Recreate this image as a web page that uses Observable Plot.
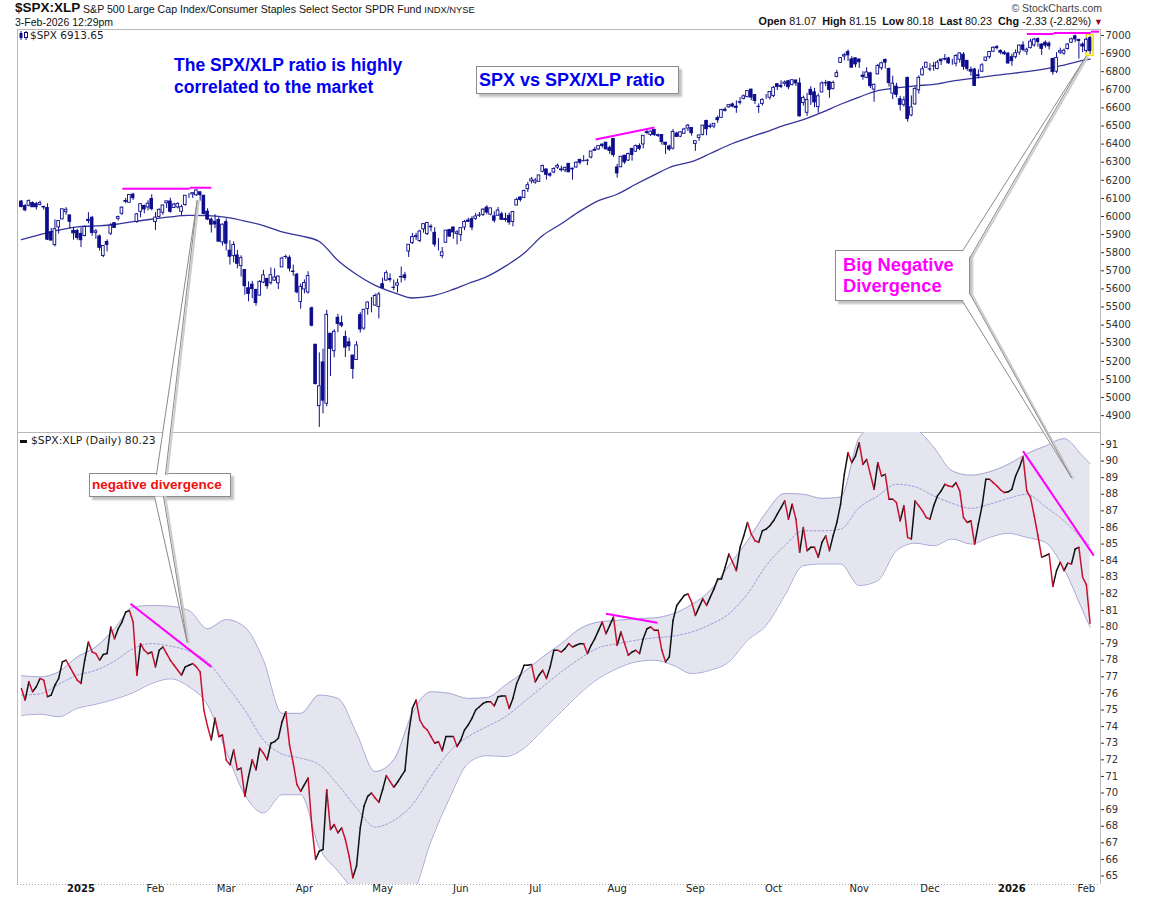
<!DOCTYPE html>
<html>
<head>
<meta charset="utf-8">
<script src="https://cdn.jsdelivr.net/npm/d3@7"></script>
<script src="https://cdn.jsdelivr.net/npm/@observablehq/plot@0.6"></script>
<style>
  html, body { margin:0; padding:0; background:#fff; }
  #chart { position:relative; width:1150px; height:900px; overflow:hidden; background:#fff; font-family:"Liberation Sans", Arial, sans-serif; }
  .abs { position:absolute; white-space:nowrap; line-height:1; }
  .box { position:absolute; box-sizing:border-box; background:#fff; border:1px solid #8c8c8c; box-shadow:3px 3px 2px #c2c2c2; white-space:nowrap; font-weight:bold; z-index:5; }
  .plotwrap { position:absolute; }
  .plotwrap svg { overflow:visible; }
</style>
</head>
<body>
<div id="chart">
  <div class="abs" style="left:15px;top:1px;font-size:13.5px;font-weight:bold;color:#111">$SPX:XLP</div>
  <div class="abs" style="left:83px;top:3.5px;font-size:10.6px;color:#111">S&amp;P 500 Large Cap Index/Consumer Staples Select Sector SPDR Fund <span style="font-size:9.4px">INDX/NYSE</span></div>
  <div class="abs" style="left:15px;top:17px;font-size:10.5px;color:#111">3-Feb-2026 12:29pm</div>
  <div class="abs" style="right:48px;top:3px;font-size:10.5px;color:#444">&copy; StockCharts.com</div>
  <div class="abs" style="right:47px;top:16px;font-size:10.8px;color:#111"><b>Open</b> 81.07&nbsp; <b>High</b> 81.15&nbsp; <b>Low</b> 80.18&nbsp; <b>Last</b> 80.23&nbsp; <b>Chg</b> -2.33 (-2.82%) <span style="color:#a0002a;font-size:9px">&#9660;</span></div>

  <div class="abs" style="left:19px;top:31px;z-index:4">
    <svg width="9" height="9" style="display:block"><line x1="2" y1="0" x2="2" y2="9" stroke="#0c0c8c"/><rect x="0.5" y="2" width="3" height="5" fill="#0c0c8c"/><line x1="7" y1="0" x2="7" y2="9" stroke="#0c0c8c"/><rect x="5.5" y="1.5" width="3" height="5" fill="#fff" stroke="#0c0c8c"/></svg>
  </div>
  <div class="abs" style="left:30px;top:30px;font-family:'DejaVu Sans';font-size:10.5px;color:#222;z-index:4">$SPX 6913.65</div>

  <div class="abs" style="left:20px;top:440px;width:7px;height:3px;background:#111;z-index:4"></div>
  <div class="abs" style="left:31px;top:435.5px;font-family:'DejaVu Sans';font-size:10.8px;color:#222;z-index:4">$SPX:XLP (Daily) 80.23</div>

  <div class="abs" style="left:174px;top:55px;font-size:17.5px;font-weight:bold;color:#0000f0;line-height:21.5px;z-index:5">The SPX/XLP ratio is highly<br>correlated to the market</div>
  <div class="box" style="left:476px;top:66px;width:203px;height:28px;padding-left:2px;font-size:18px;line-height:26px;color:#0000f0">SPX vs SPX/XLP ratio</div>
  <div class="box" style="left:835px;top:250px;width:135px;height:51px;padding:3px 0 0 7px;font-size:18.3px;line-height:21px;color:#ff00ff">Big Negative<br>Divergence</div>
  <div class="box" style="left:89px;top:473px;width:142px;height:24px;padding-left:2px;font-size:13.5px;line-height:22px;color:#f01010">negative divergence</div>
</div>
<script>
// ---------------- DATA ----------------
const firstDay = "2024-12-09";
const lastDay = "2026-02-03";
const marketHolidays = ["2024-12-25","2025-01-01","2025-01-09","2025-01-20","2025-02-17","2025-04-18",
  "2025-05-26","2025-06-19","2025-07-04","2025-09-01","2025-11-27","2025-12-25","2026-01-01","2026-01-19"];

// $SPX daily candles (one value per trading day)
const spxOpen = [
  6083,6058,6060,6075,6068,6064,6053,6047,5913,5842,5940,5984,6024,6006,5921,5920,
  5904,5892,5982,5993,5910,5890,5782,5859,5905,5963,5987,6015,6081,6076,6121,5970,6026,6058,6050,6097,
  5969,5998,6021,6073,6083,6047,6050,6026,6063,6115,6122,6117,6134,6115,6027,5983,5971,5981,5857,
  5969,5811,5781,5785,5726,5705,5604,5624,5594,5563,5635,5655,5632,5646,5631,5719,5776,5772,5696,5679,5528,
  5597,5581,5493,5292,4953,5194,4966,5353,5256,5441,5411,5335,5305,5232,5207,5455,5381,5489,5529,5508,5500,
  5626,5646,5655,5605,5618,5666,5675,5807,5853,5886,5865,5929,5903,5944,5910,5842,5781,5855,5925,5939,5903,
  5897,5939,5978,5985,5987,6004,6009,6049,6010,6001,6004,6012,5987,6004,5970,6061,6105,6103,6151,6194,
  6187,6192,6247,6260,6233,6243,6270,6256,6255,6291,6260,6271,6313,6305,6307,6326,6368,6370,6397,6408,6379,6428,
  6271,6272,6336,6309,6374,6358,6389,6398,6461,6451,6478,6445,6450,6408,6387,6375,6458,6441,6457,6486,6489,
  6401,6434,6451,6528,6498,6497,6543,6545,6590,6603,6619,6607,6628,6650,6659,6701,6671,6606,6622,6661,6656,
  6665,6731,6722,6733,6747,6727,6751,6735,6627,6573,6700,6686,6604,6685,6737,6742,6705,6771,6849,6884,6908,6868,6874,
  6867,6778,6766,6791,6701,6785,6819,6865,6815,6679,6718,6648,6617,6765,6558,6619,6697,6780,6822,
  6813,6830,6815,6867,6867,6873,6840,6844,6866,6894,6860,6810,6812,6780,6800,6860,6880,6910,6935,6915,6905,6900,
  6880,6880,6905,6945,6910,6930,6945,6980,6950,6960,6955,6870,6800,6905,6900,6925,6960,6995,6975,6950,
  6915,6985];
const spxHigh = [
  6088,6066,6092,6080,6078,6085,6057,6070,5935,5982,5978,6040,6049,6007,5940,5929,
  5936,5949,6021,6001,5928,5898,5839,5871,5961,5964,6002,6052,6100,6119,6128,6017,6070,6063,6087,6120,
  6022,6042,6062,6084,6101,6073,6076,6063,6116,6127,6129,6147,6134,6115,6043,5992,6010,5994,5959,
  5987,5866,5860,5813,5783,5706,5639,5642,5598,5646,5703,5659,5716,5711,5672,5775,5787,5783,5732,5685,5627,
  5650,5695,5500,5293,5247,5267,5482,5353,5375,5460,5450,5367,5328,5233,5309,5469,5484,5528,5553,5572,5581,
  5659,5700,5683,5649,5654,5721,5692,5845,5906,5907,5924,5959,5968,5954,5938,5878,5829,5922,5930,5943,5922,
  5937,5978,5990,5999,6017,6022,6043,6060,6046,6026,6050,6024,6018,6019,6028,6101,6108,6146,6188,6215,
  6210,6227,6284,6262,6242,6269,6290,6278,6272,6292,6268,6302,6316,6336,6316,6360,6382,6390,6401,6409,6389,6428,
  6288,6330,6338,6350,6376,6395,6401,6446,6481,6473,6481,6456,6453,6408,6394,6481,6466,6469,6487,6508,6489,
  6416,6449,6502,6532,6511,6513,6555,6592,6601,6616,6627,6639,6656,6672,6694,6703,6672,6622,6650,6674,6689,
  6719,6733,6750,6749,6752,6754,6755,6764,6665,6680,6717,6708,6677,6744,6752,6744,6748,6807,6877,6900,6920,6883,6875,
  6871,6800,6822,6797,6731,6841,6853,6870,6820,6775,6736,6664,6661,6771,6666,6715,6777,6828,6853,
  6844,6851,6862,6867,6895,6879,6868,6894,6904,6905,6862,6826,6818,6810,6845,6880,6912,6937,6945,6920,6915,6905,
  6897,6920,6947,6965,6930,6978,6985,6986,6955,6970,6965,6875,6905,6930,6925,6955,6985,7002,6980,6960,
  6985,6995];
const spxLow = [
  6048,6026,6053,6050,6036,6059,6035,5867,5866,5832,5903,5983,6007,5932,5869,5869,
  5829,5888,5960,5891,5874,5809,5773,5804,5895,5938,5975,6006,6071,6075,6089,5962,5993,6015,6031,6031,
  5923,5991,6007,6044,6019,6045,6042,6004,6057,6100,6100,6111,6085,6009,5977,5909,5933,5858,5837,
  5810,5732,5744,5711,5666,5565,5529,5546,5505,5562,5629,5598,5622,5641,5597,5719,5764,5694,5670,5573,5488,
  5573,5571,5390,5070,4835,4910,4949,5116,5220,5358,5386,5221,5255,5101,5207,5357,5371,5455,5468,5506,5434,
  5599,5643,5637,5590,5578,5633,5644,5774,5845,5868,5856,5908,5895,5915,5830,5810,5767,5855,5886,5874,5843,
  5862,5922,5967,5921,5978,5994,6000,6010,6004,5964,6004,5978,5970,5952,5943,6059,6080,6099,6133,6180,
  6178,6188,6241,6201,6217,6236,6260,6245,6243,6243,6201,6267,6285,6303,6281,6318,6360,6366,6378,6366,6343,6327,
  6212,6270,6288,6304,6306,6356,6364,6374,6451,6441,6442,6436,6394,6343,6360,6367,6437,6436,6454,6469,6444,
  6360,6416,6445,6446,6485,6485,6515,6541,6577,6599,6600,6570,6616,6644,6656,6640,6619,6570,6610,6647,6643,
  6657,6696,6706,6717,6700,6721,6718,6550,6610,6553,6614,6601,6570,6685,6718,6653,6699,6766,6846,6860,6856,6820,6822,
  6818,6753,6761,6707,6631,6783,6808,6815,6715,6646,6656,6583,6604,6521,6551,6615,6676,6777,6820,
  6800,6803,6810,6834,6859,6840,6835,6827,6847,6807,6802,6775,6720,6760,6795,6855,6870,6908,6920,6893,6890,6843,
  6830,6870,6890,6910,6890,6925,6935,6935,6890,6930,6920,6780,6790,6895,6890,6920,6955,6960,6870,6905,
  6905,6895];
const spxClose = [
  6052,6034,6085,6051,6051,6074,6050,5872,5867,5930,5975,6040,6037,5971,5907,5882,
  5869,5942,5975,5909,5918,5827,5837,5843,5950,5937,5997,6049,6086,6119,6101,6012,6068,6039,6071,6041,
  5994,6037,6061,6084,6026,6066,6069,6052,6115,6115,6129,6144,6118,6013,5983,5955,5956,5861,5955,
  5850,5778,5843,5739,5770,5615,5572,5599,5522,5639,5675,5615,5676,5663,5668,5768,5777,5712,5693,5581,5612,
  5633,5671,5397,5074,5062,4983,5457,5268,5363,5406,5397,5276,5283,5158,5288,5376,5485,5525,5529,5561,5569,
  5604,5687,5650,5607,5631,5664,5660,5844,5886,5892,5917,5958,5964,5940,5845,5842,5802,5922,5889,5912,5912,
  5936,5970,5971,5939,6000,6006,6038,6022,6045,5977,6033,5982,5981,5967,6025,6092,6092,6141,6173,6205,
  6198,6227,6279,6230,6226,6263,6280,6260,6269,6244,6264,6297,6297,6306,6309,6359,6363,6389,6390,6371,6362,6339,
  6238,6330,6299,6345,6340,6389,6374,6446,6466,6469,6450,6449,6411,6396,6370,6467,6440,6465,6481,6502,6460,
  6416,6448,6502,6482,6495,6512,6532,6588,6584,6615,6607,6600,6632,6664,6693,6657,6638,6605,6644,6661,6688,
  6711,6715,6716,6740,6714,6753,6735,6553,6654,6644,6671,6630,6664,6735,6735,6699,6738,6792,6875,6891,6890,6822,6840,
  6852,6771,6796,6720,6728,6832,6846,6850,6737,6734,6672,6617,6642,6538,6603,6705,6766,6813,6849,
  6812,6829,6850,6857,6870,6846,6840,6887,6901,6827,6816,6800,6721,6775,6835,6878,6909,6932,6930,6905,6896,6845,
  6858,6902,6944,6921,6921,6966,6977,6964,6926,6944,6940,6797,6876,6913,6916,6950,6979,6978,6969,6939,
  6976,6913.65];

// $SPX:XLP daily close
const ratioClose = [
  76.3,75.6,76.7,76.1,76.4,76.9,76.8,75.8,75.9,76.5,76.9,77.9,78.0,77.6,77.2,76.8,
  76.6,78.0,79.1,78.5,78.4,78.0,78.35,78.4,80.0,79.3,79.9,80.3,80.9,81.0,80.3,77.1,79.0,78.6,78.4,78.5,
  77.6,78.6,78.8,78.4,78.0,77.7,77.4,77.1,77.6,77.7,77.8,77.6,77.3,75.0,74.0,73.2,74.5,73.4,73.5,
  72.0,71.7,72.6,71.4,71.5,69.8,71.0,72.0,71.4,72.7,72.4,72.0,73.0,73.1,73.3,74.3,74.9,72.9,71.8,70.5,70.1,
  70.5,70.9,68.0,66.0,66.5,66.6,70.2,67.8,68.1,67.6,67.9,67.2,66.2,64.9,65.6,67.9,69.2,69.8,70.0,69.7,69.45,
  70.2,71.05,70.7,70.35,70.65,71.0,71.35,73.6,75.1,75.6,74.4,74.0,73.8,73.4,73.0,73.1,72.55,73.4,73.4,73.4,72.8,
  73.2,73.8,74.1,74.5,75.0,75.2,75.4,75.5,75.5,75.25,75.8,75.85,75.85,75.1,75.7,76.6,77.1,77.7,77.7,77.75,
  76.7,77.1,77.4,76.9,77.6,78.6,78.6,78.5,78.7,79.0,78.8,78.9,79.0,79.0,78.4,78.9,79.3,79.8,80.3,79.6,80.1,80.6,
  78.9,79.7,79.0,78.3,78.5,78.6,78.4,79.3,79.9,80.0,79.8,79.8,78.6,77.9,78.2,80.4,81.3,81.6,81.9,82.0,81.5,
  80.7,81.2,81.7,81.3,81.8,82.3,82.9,82.9,83.6,84.4,83.9,83.4,84.8,85.5,86.3,85.6,85.2,85.1,85.8,85.9,86.1,
  86.4,86.8,87.2,87.6,86.5,87.4,86.5,84.5,86.0,84.6,84.8,84.8,84.2,85.1,85.5,84.6,85.5,86.3,87.4,89.2,90.5,89.9,90.3,
  91.1,89.8,90.1,89.2,88.3,89.9,89.1,89.2,87.7,87.7,87.5,86.4,87.3,85.4,85.3,87.6,87.3,87.0,86.6,
  86.5,87.3,87.9,88.2,88.6,88.5,88.45,88.7,88.2,86.6,86.3,86.4,85.0,86.2,87.3,88.9,88.9,88.7,88.5,88.25,88.1,88.15,
  88.3,89.1,89.6,90.25,88.2,87.8,86.7,85.5,84.2,84.3,84.4,82.45,83.4,83.9,83.4,83.85,83.8,84.7,84.8,83.0,
  82.56,80.23];

// indicator readings, every 5th trading day (trading-day number from the first bar)
const sampleDay = [0,5,10,15,20,25,30,35,40,45,50,55,60,65,70,75,80,85,90,95,100,105,110,115,120,125,130,135,140,
  145,150,155,160,165,170,175,180,185,190,195,200,205,210,215,220,225,230,235,240,245,250,255,260,265,270,275,280,285,287];
const spxMA50 = [5873,5900,5925,5943,5948,5956,5972,5985,5998,6006,6005,5995,5975,5950,5915,5893,5862,5757,5680,5620,
  5580,5550,5560,5590,5630,5668,5726,5797,5895,5960,6030,6088,6123,6178,6230,6278,6303,6348,6395,6433,6468,6505,6535,
  6575,6620,6660,6695,6710,6722,6730,6748,6762,6776,6788,6800,6816,6836,6862,6870];
const bbUpper = [77.07,77.0,77.3,78.2,78.8,79.9,81.2,81.3,81.25,81.0,79.9,80.45,80.0,78.0,74.8,74.8,75.9,75.7,73.6,71.3,
  72.0,74.8,76.1,76.0,75.7,75.75,76.5,77.3,78.2,79.0,79.9,80.3,80.4,80.5,80.55,80.8,81.35,82.2,83.7,85.2,86.9,88.05,88.0,
  87.75,87.83,91.4,92.2,92.4,92.0,90.84,89.4,89.15,89.35,89.8,90.44,90.9,91.35,90.3,89.84];
const bbMiddle = [75.9,75.98,76.55,77.1,77.4,77.95,78.7,79.0,78.85,78.55,77.9,76.5,75.0,73.2,72.35,72.1,71.7,70.5,69.1,67.95,
  68.35,69.3,71.0,72.5,73.4,74.0,74.6,75.5,76.4,77.3,78.1,78.75,79.0,79.2,79.35,79.45,79.7,80.15,80.8,82.0,83.7,84.9,85.8,
  85.8,85.9,87.2,87.9,88.6,88.45,87.9,87.45,87.15,87.4,87.75,88.0,87.25,86.4,85.3,84.9];
const bbLower = [74.68,74.75,74.6,75.1,75.35,75.65,76.05,76.6,76.88,76.4,75.3,72.5,69.9,68.8,69.9,69.9,66.7,65.3,64.0,63.3,
  63.5,64.0,67.1,69.7,71.8,72.25,72.2,72.7,73.8,74.9,76.0,76.9,77.5,77.9,78.0,77.7,77.2,77.4,77.9,79.2,80.1,81.9,83.7,
  83.8,83.8,82.5,82.8,84.6,85.05,84.9,85.3,85.0,85.4,85.65,85.4,85.1,83.5,81.0,80.0];

// axis ticks
const spxTicks = [4900,5000,5100,5200,5300,5400,5500,5600,5700,5800,5900,6000,6100,6200,6300,6400,6500,6600,6700,6800,6900,7000];
const ratioTicks = [65,66,67,68,69,70,71,72,73,74,75,76,77,78,79,80,81,82,83,84,85,86,87,88,89,90,91];
const monthTickDates = ["2025-01-02","2025-02-03","2025-03-03","2025-04-01","2025-05-01","2025-06-02","2025-07-01",
  "2025-08-01","2025-09-02","2025-10-01","2025-11-03","2025-12-01","2026-01-02","2026-02-02"];
const monthTickLabels = ["2025","Feb","Mar","Apr","May","Jun","Jul","Aug","Sep","Oct","Nov","Dec","2026","Feb"];

// hand-drawn annotations (trading-day number, value)
const spxDivergence = [
  {d1:27.1, v1:6153, d2:45.2, v2:6153}, {d1:45.2, v1:6159, d2:51.0, v2:6159},
  {d1:154.2, v1:6425, d2:170.0, v2:6492},
  {d1:270.0, v1:7008, d2:277.2, v2:7008}, {d1:277.2, v1:7014, d2:287.2, v2:7014}, {d1:287.2, v1:7021, d2:289.4, v2:7021}];
const ratioDivergence = [
  {d1:29.3, v1:81.4, d2:51.0, v2:77.6},
  {d1:157.0, v1:80.8, d2:170.8, v2:80.26},
  {d1:269.0, v1:90.6, d2:288.0, v2:84.3}];
// callout pointers: base on the box edge (page px), tip in data units
const callouts = [
  {id:"a", b1x:156, b1y:474, b2x:165, b2y:474, panel:"spx", day:47.2, value:6088},
  {id:"b", b1x:154, b1y:496, b2x:163, b2y:496, panel:"ratio", day:44.5, value:79.1},
  {id:"c", b1x:962, b1y:250.5, b2x:969.5, b2y:257, panel:"spx", day:285.9, value:6884},
  {id:"d", b1x:962, b1y:300.5, b2x:969.5, b2y:293.5, panel:"ratio", day:282.0, value:89.0}];

// ---------------- BUILD ----------------
const hol = new Set(marketHolidays);
const days = [];
for (let t = new Date(firstDay + "T12:00:00Z"); t <= new Date(lastDay + "T12:00:00Z"); t = new Date(t.getTime() + 864e5)) {
  const wd = t.getUTCDay(), s = t.toISOString().slice(0, 10);
  if (wd > 0 && wd < 6 && !hol.has(s)) days.push(s);
}
const n = Math.min(days.length, spxClose.length, ratioClose.length);
const bars = d3.range(n).map(i => ({i, date: days[i], o: spxOpen[i], h: spxHigh[i], l: spxLow[i], c: spxClose[i]}));
const lastBar = bars[n - 1];
const segs = d3.range(1, ratioClose.length).map(i => ({x1: i - 1, y1: ratioClose[i - 1], x2: i, y2: ratioClose[i], up: ratioClose[i] >= ratioClose[i - 1]}));
const maRows = sampleDay.map((d, k) => ({i: d, v: spxMA50[k]}));
const bandRows = sampleDay.map((d, k) => ({i: d, up: bbUpper[k], mid: bbMiddle[k], lo: bbLower[k]}));
const monthTicks = monthTickDates.map((dt, k) => ({i: days.indexOf(dt), label: monthTickLabels[k], bold: /^\d{4}$/.test(monthTickLabels[k])}));

const xDomain = [-1.05, 289.8];
const navy = "#0c0c8c";
const axisStyle = {fontFamily: "DejaVu Sans", fontSize: "10px", color: "#222", background: "transparent", overflow: "visible"};

const topPlot = Plot.plot({
  width: 1134, height: 404, marginLeft: 1, marginRight: 50, marginTop: 1, marginBottom: 0,
  x: {domain: xDomain, axis: null},
  y: {domain: [4807, 7033], axis: null},
  style: axisStyle,
  marks: [
    Plot.line(maRows, {x: "i", y: "v", stroke: "#34349a", strokeWidth: 1.3, curve: "monotone-x"}),
    Plot.rect([lastBar], {x1: d => d.i - 0.95, x2: d => d.i + 0.95, y1: d => d.l - 8, y2: d => d.h + 8, fill: "#fffbd0", stroke: "#f0e000", strokeWidth: 1.5}),
    Plot.ruleX(bars, {x: "i", y1: "l", y2: "h", stroke: navy, strokeWidth: 1}),
    Plot.rect(bars.filter(d => d.c >= d.o), {x1: d => d.i - 0.36, x2: d => d.i + 0.36, y1: "o", y2: "c", fill: "white", stroke: navy, strokeWidth: 0.9}),
    Plot.rect(bars.filter(d => d.c < d.o), {x1: d => d.i - 0.36, x2: d => d.i + 0.36, y1: "o", y2: "c", fill: navy, stroke: navy, strokeWidth: 0.9}),
    Plot.link(spxDivergence, {x1: "d1", y1: "v1", x2: "d2", y2: "v2", stroke: "#ff00ff", strokeWidth: 2}),
    Plot.frame({stroke: "#b9b9b9"}),
    Plot.axisY({anchor: "right", ticks: spxTicks, tickSize: 3, tickPadding: 2, tickFormat: d => String(d), color: "#333"})
  ]
});

const botPlot = Plot.plot({
  width: 1134, height: 468, marginLeft: 1, marginRight: 50, marginTop: 0, marginBottom: 16,
  x: {domain: xDomain, axis: null},
  y: {domain: [64.49, 91.72], axis: null},
  style: axisStyle,
  marks: [
    Plot.areaY(bandRows, {x: "i", y1: "lo", y2: "up", fill: "#e5e5f0", curve: "monotone-x", clip: true}),
    Plot.line(bandRows, {x: "i", y: "up", stroke: "#a9a9d8", strokeWidth: 1, curve: "monotone-x", clip: true}),
    Plot.line(bandRows, {x: "i", y: "lo", stroke: "#a9a9d8", strokeWidth: 1, curve: "monotone-x", clip: true}),
    Plot.line(bandRows, {x: "i", y: "mid", stroke: "#9a9ad8", strokeWidth: 1, strokeDasharray: "2,2", curve: "monotone-x", clip: true}),
    Plot.link(segs.filter(d => d.up), {x1: "x1", y1: "y1", x2: "x2", y2: "y2", stroke: "#111", strokeWidth: 1.5, strokeLinecap: "round"}),
    Plot.link(segs.filter(d => !d.up), {x1: "x1", y1: "y1", x2: "x2", y2: "y2", stroke: "#c8102e", strokeWidth: 1.5, strokeLinecap: "round"}),
    Plot.link(ratioDivergence, {x1: "d1", y1: "v1", x2: "d2", y2: "v2", stroke: "#ff00ff", strokeWidth: 2}),
    Plot.ruleX([xDomain[0], xDomain[1]], {stroke: "#b9b9b9"}),
    Plot.ruleY([64.49], {stroke: "#a8a8a8", strokeDasharray: "1,2"}),
    Plot.axisY({anchor: "right", ticks: ratioTicks, tickSize: 3, tickPadding: 2, tickFormat: d => String(d), color: "#333"}),
    Plot.text(monthTicks.filter(d => !d.bold), {x: "i", text: "label", frameAnchor: "bottom", dy: 7, fontSize: 10, fill: "#222"}),
    Plot.text(monthTicks.filter(d => d.bold), {x: "i", text: "label", frameAnchor: "bottom", dy: 7, fontSize: 10, fontWeight: "bold", fill: "#111"})
  ]
});

const chart = document.getElementById("chart");
function place(el, left, top, z) {
  const w = document.createElement("div");
  w.className = "plotwrap";
  w.style.left = left + "px"; w.style.top = top + "px"; w.style.zIndex = z;
  w.appendChild(el); chart.appendChild(w);
}
place(topPlot, 16, 28, 1);
place(botPlot, 16, 432, 2);

// callout pointers: tips go through the panel scales
function px(plot, name, v) {
  const s = plot.scale(name);
  return s.apply ? s.apply(v) : d3.scaleLinear(s.domain, s.range)(v);
}
const wedgePts = [], edgePts = [], shadowPts = [];
for (const c of callouts) {
  const tx = 16 + px(topPlot, "x", c.day);
  const ty = c.panel === "spx" ? 28 + px(topPlot, "y", c.value) : 432 + px(botPlot, "y", c.value);
  wedgePts.push({id: c.id, x: c.b1x, y: c.b1y}, {id: c.id, x: tx, y: ty}, {id: c.id, x: c.b2x, y: c.b2y});
  edgePts.push({id: c.id + "1", x: c.b1x, y: c.b1y}, {id: c.id + "1", x: tx, y: ty},
               {id: c.id + "2", x: c.b2x, y: c.b2y}, {id: c.id + "2", x: tx, y: ty});
  shadowPts.push({id: c.id, x: c.b2x + 1.8, y: c.b2y + (c.b2y > c.b1y ? 0.5 : 0)}, {id: c.id, x: tx + 1.6, y: ty + 0.8});
}
const overlay = Plot.plot({
  width: 1150, height: 900, margin: 0,
  x: {domain: [0, 1150], range: [0, 1150], axis: null},
  y: {domain: [0, 900], range: [0, 900], axis: null},
  style: {background: "transparent", overflow: "visible"},
  marks: [
    Plot.line(shadowPts, {x: "x", y: "y", z: "id", stroke: "#cdcdcd", strokeWidth: 2, curve: "linear"}),
    Plot.line(wedgePts, {x: "x", y: "y", z: "id", stroke: "none", fill: "white", curve: "linear"}),
    Plot.line(edgePts, {x: "x", y: "y", z: "id", stroke: "#8a8a8a", strokeWidth: 1, curve: "linear"})
  ]
});
overlay.style.pointerEvents = "none";
place(overlay, 0, 0, 6);
</script>
</body>
</html>
